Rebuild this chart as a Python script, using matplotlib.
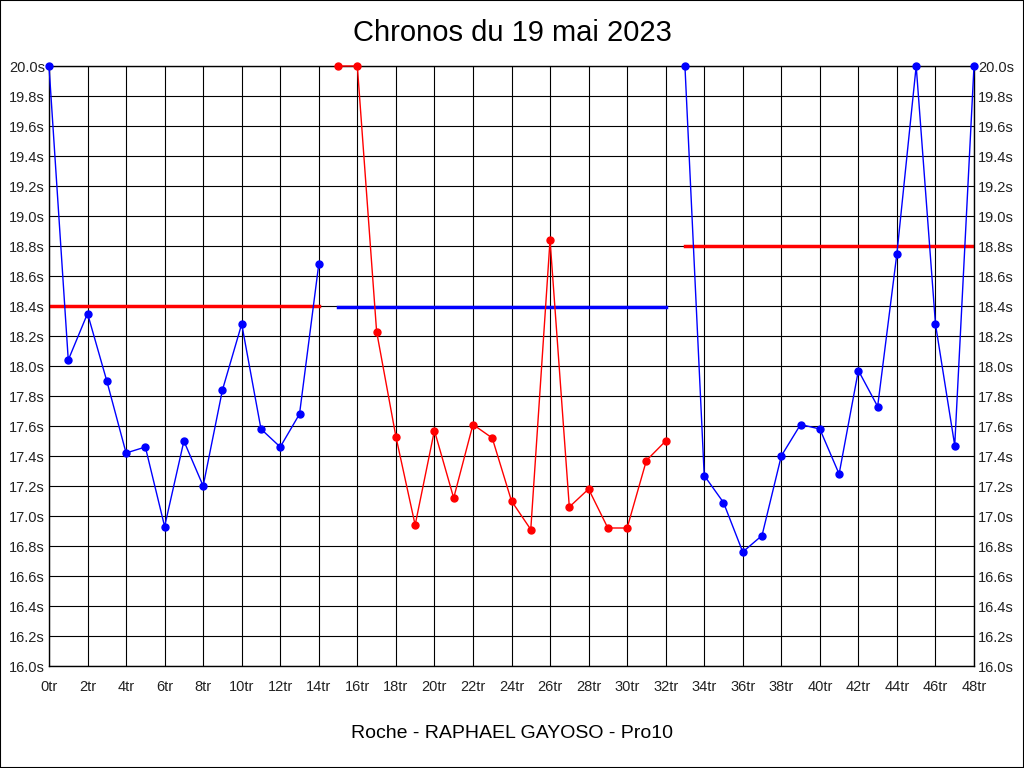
import matplotlib
matplotlib.use('Agg')
from matplotlib import pyplot as plt
from matplotlib.patches import Rectangle
import numpy as np

plt.rcParams['font.family'] = ['Liberation Sans', 'DejaVu Sans']

# laps (tr) and times (s) for each relay, with the relay average
relay1_laps = list(range(0, 15))
relay1_times = [20.0, 18.04, 18.35, 17.90, 17.42, 17.46, 16.93, 17.50,
                17.20, 17.84, 18.28, 17.58, 17.46, 17.68, 18.68]
relay1_avg = 18.40

relay2_laps = list(range(15, 33))
relay2_times = [20.0, 20.0, 18.23, 17.53, 16.94, 17.57, 17.12, 17.61, 17.52,
                17.10, 16.91, 18.84, 17.06, 17.18, 16.92, 16.92, 17.37, 17.50]
relay2_avg = 18.395

relay3_laps = list(range(33, 49))
relay3_times = [20.0, 17.27, 17.09, 16.76, 16.87, 17.40, 17.61, 17.58,
                17.28, 17.97, 17.73, 18.75, 20.0, 18.28, 17.47, 20.0]
relay3_avg = 18.80

relays = [
    (relay1_laps, relay1_times, relay1_avg, '#0000FF', '#FF0000'),
    (relay2_laps, relay2_times, relay2_avg, '#FF0000', '#0000FF'),
    (relay3_laps, relay3_times, relay3_avg, '#0000FF', '#FF0000'),
]

fig = plt.figure(figsize=(10.24, 7.68), dpi=100)
ax = fig.add_axes([49 / 1024, 1 - 666 / 768, 925 / 1024, 600 / 768])

for laps, times, avg, col, avg_col in relays:
    ax.plot(laps, times, color=col, lw=1.0, marker='o', ms=5, zorder=3, clip_on=False)
    ax.plot([laps[0], laps[-1]], [avg, avg], color=avg_col, lw=2.5, zorder=2)

ax.set_xlim(0, 48)
ax.set_ylim(16.0, 20.0)
ax.set_xticks(np.arange(0, 49, 2))
ax.set_xticklabels([f'{t}tr' for t in range(0, 49, 2)])
yt = np.arange(16.0, 20.01, 0.2)
ax.set_yticks(yt)
ax.set_yticklabels([f'{v:.1f}s' for v in yt])
ax.grid(True, color='black', lw=0.8, zorder=1)
ax.set_axisbelow(True)
ax.tick_params(length=0, labelsize=10.5, colors='#222222')
ax.tick_params(axis='y', pad=3, right=True, labelright=True)
ax.tick_params(axis='x', pad=10)
for s in ax.spines.values():
    s.set_color('black')
    s.set_linewidth(1.0)

fig.text(0.5, 1 - 33 / 768, 'Chronos du 19 mai 2023', ha='center', va='center', fontsize=21)
fig.text(0.5, 1 - 733 / 768, 'Roche - RAPHAEL GAYOSO - Pro10', ha='center', va='center', fontsize=14)

fig.patches.append(Rectangle((0, 0), 1, 1, transform=fig.transFigure, fill=False,
                             edgecolor='black', lw=1.5))

fig.savefig('out.png', dpi=100)
